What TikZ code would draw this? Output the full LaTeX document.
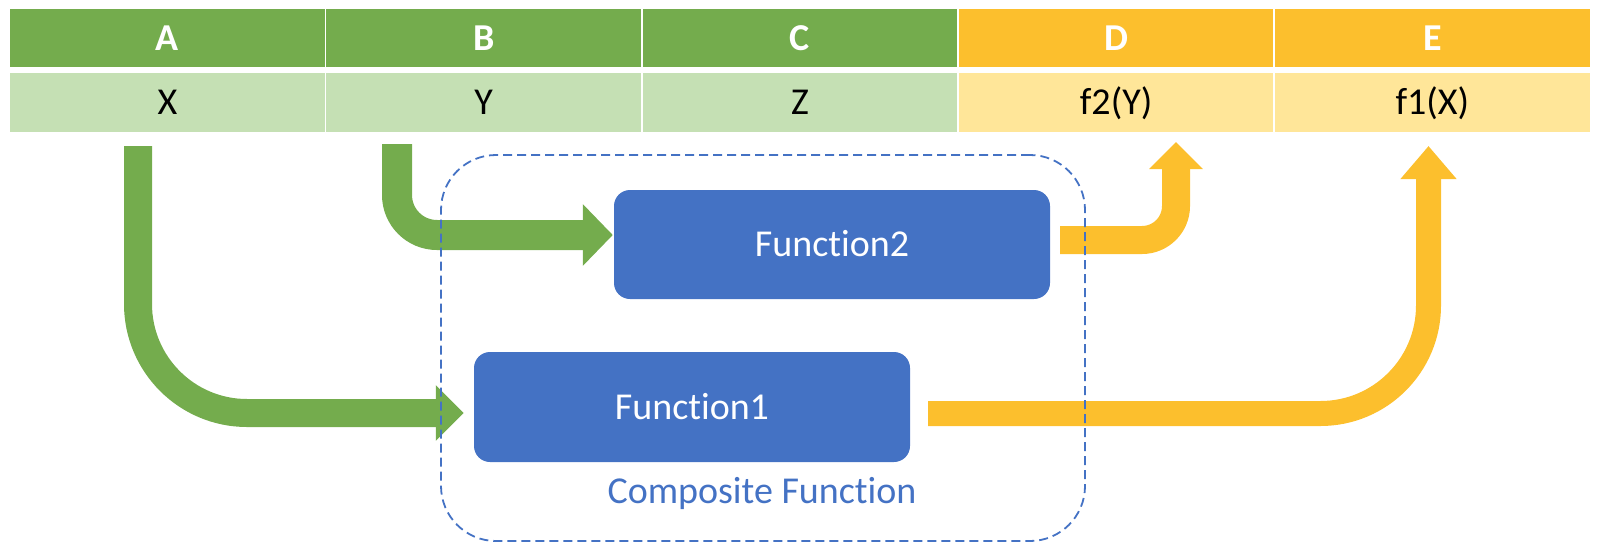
\documentclass[tikz,border=0pt]{standalone}
\usepackage{fontspec}
\setmainfont{Carlito}[Ligatures=NoCommon]
\usetikzlibrary{arrows.meta,calc}
\definecolor{hgreen}{RGB}{116,172,77}
\definecolor{lgreen}{RGB}{197,224,180}
\definecolor{horange}{RGB}{252,191,45}
\definecolor{lorange}{RGB}{255,230,153}
\definecolor{fblue}{RGB}{68,114,196}
\begin{document}
\begin{tikzpicture}[x=1pt,y=-1pt,
  cell/.style={minimum width=314.5pt, inner sep=0pt, text height=24pt, text depth=0pt,
    font=\fontsize{38}{40}\selectfont},
  hcell/.style={cell, minimum height=58pt, text=white, font=\fontsize{38}{40}\selectfont\bfseries},
  vcell/.style={cell, minimum height=59pt, text=black},
  fbox/.style={fill=fblue, rounded corners=16pt, minimum width=436pt, minimum height=109pt,
    inner sep=0pt, text=white, text height=24.5pt, text depth=0pt, font=\fontsize{38}{40}\selectfont},
  garrow/.style={draw=hgreen},
  oarrow/.style={draw=horange},
  compbox/.style={draw=fblue, line width=1.8pt, dash pattern=on 9pt off 5pt, rounded corners=55pt,
    minimum width=644pt, minimum height=386pt, inner sep=0pt}
]
\useasboundingbox (0,0) rectangle (1602,544);

% table
\node[hcell, fill=hgreen]  (hA) at (167.5,38)  {A};
\node[hcell, fill=hgreen]  (hB) at (483.7,38)  {B};
\node[hcell, fill=hgreen]  (hC) at (799.9,38)  {C};
\node[hcell, fill=horange] (hD) at (1116.1,38) {D};
\node[hcell, fill=horange] (hE) at (1432.3,38) {E};
\node[vcell, fill=lgreen]  (vA) at (167.5,102.5)  {X};
\node[vcell, fill=lgreen]  (vB) at (483.7,102.5)  {Y};
\node[vcell, fill=lgreen]  (vC) at (799.9,102.5)  {Z};
\node[vcell, fill=lorange] (vD) at (1116.1,102.5) {f2(Y)};
\node[vcell, fill=lorange] (vE) at (1432.3,102.5) {f1(X)};

% function boxes
\node[fbox] (f2) at (832,244.5) {Function2};
\node[fbox, minimum height=110pt] (f1) at (692,407) {Function1};

% arrow end points near the table
\coordinate (a0) at (138,146);
\coordinate (b0) at (397,144);
\coordinate (d1) at (1176,142);
\coordinate (e1) at (1428.5,146);

% arrows
\draw[garrow, line width=28pt, rounded corners=109pt, -{Triangle[length=28pt,width=54pt]}]
  (a0) |- ([xshift=-10pt,yshift=-6pt]f1.west);
\draw[garrow, line width=30pt, rounded corners=40pt, -{Triangle[length=30pt,width=60pt]}]
  (b0) |- ([xshift=-1pt,yshift=9.5pt]f2.west);
\draw[oarrow, line width=28pt, rounded corners=34pt, -{Triangle[length=27pt,width=52pt]}]
  ([xshift=10pt,yshift=4.5pt]f2.east) -| (d1);
\draw[oarrow, line width=25pt, rounded corners=108pt, -{Triangle[length=33pt,width=54pt]}]
  ([xshift=18pt,yshift=-6.5pt]f1.east) -| (e1);

% composite function frame
\node[compbox] (comp) at (763,348) {};
\node[anchor=base, text=fblue, inner sep=0pt, font=\fontsize{38}{40}\selectfont] (clabel) at (762,503) {Composite Function};
\end{tikzpicture}
\end{document}
